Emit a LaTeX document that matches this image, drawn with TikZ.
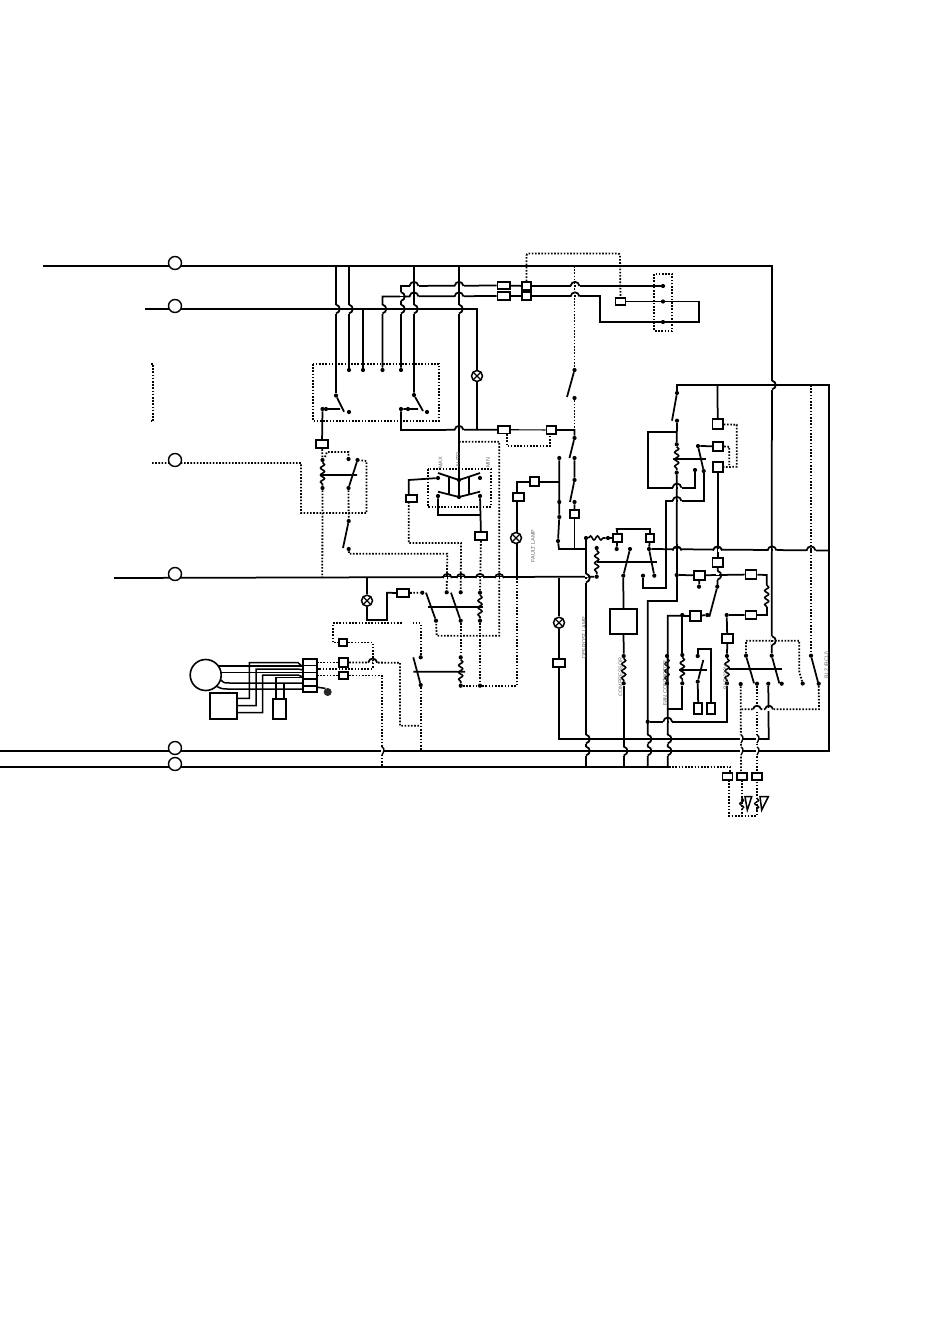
\documentclass[tikz,border=0pt]{standalone}
\usepackage{fontspec}
\setmainfont{Liberation Sans}
\usetikzlibrary{decorations.pathmorphing}
\pgfdeclarelayer{wires}
\pgfsetlayers{wires,main}
\tikzset{
 wire/.style={line width=1.75pt,black},
 dotw/.style={line width=1.8pt,black,dash pattern=on 1.6pt off 1.6pt},
 thinw/.style={line width=1.1pt,black},
 fuse/.style={draw,line width=1.75pt,fill=white,rectangle,inner sep=0pt},
 term/.style={circle,fill=black,inner sep=0pt,minimum size=4.2pt},
 bigc/.style={circle,draw,line width=1.4pt,fill=white,inner sep=0pt,minimum size=13pt},
 lamp/.style={circle,draw,line width=1.5pt,fill=white,inner sep=0pt,minimum size=11pt,path picture={
   \draw[line width=1.3pt] (path picture bounding box.north west)--(path picture bounding box.south east)
   (path picture bounding box.north east)--(path picture bounding box.south west);}},
 coilw/.style={line width=1.6pt,decorate,decoration={snake,amplitude=2pt,segment length=7pt}},
 lab/.style={rotate=90,text=black!60,font=\fontsize{5.4}{6}\selectfont,inner sep=0pt},
}
\newcommand\hopH[2]{\draw[white,line width=3pt] (#1-4.5,#2)--(#1-0.8,#2) (#1+0.8,#2)--(#1+4.5,#2);
 \draw[wire] (#1-4.5,#2) .. controls (#1-3.5,#2-5.5) and (#1+3.5,#2-5.5) .. (#1+4.5,#2);}
\newcommand\hopV[2]{\draw[white,line width=3pt] (#1,#2-4.5)--(#1,#2-0.8) (#1,#2+0.8)--(#1,#2+4.5);
 \draw[wire] (#1,#2-4.5) .. controls (#1+5,#2-3) and (#1+5,#2+3) .. (#1,#2+4.5);}
\newcommand\fz[5]{\node[fuse,minimum width=#4pt,minimum height=#5pt] (#1) at (#2,#3) {};}
\begin{document}
\begin{tikzpicture}[x=1pt,y=-1pt]
\useasboundingbox (0,0) rectangle (950,1344);
% ---- circles
\foreach \n/\y in {ca/263,cb/306,cc/460,cd/574,ce/748,cf/764}
  \node[bigc] (\n) at (175,\y) {};
\node[circle,draw,line width=1.6pt,fill=white,inner sep=0pt,minimum size=31pt] (motor) at (205.7,675) {};
% ---- boxes
\fz{f1}{322}{444}{12.5}{8.6}
\fz{f2}{503.7}{285.5}{12.5}{7.6}
\fz{f3}{503.7}{296}{12.5}{7.6}
\fz{f4}{526.5}{286}{9.6}{8}
\fz{f5}{526.5}{296}{9.6}{8}
\fz{f6}{620.5}{301.5}{10}{7.4}
\fz{f7}{504}{429.7}{12.5}{7.4}
\fz{f8}{551.3}{430}{9.4}{8}
\fz{f9}{411.5}{498.5}{11.6}{7.6}
\fz{f10}{481}{536}{12.6}{8.3}
\fz{f11}{534.5}{481.7}{9.6}{8.7}
\fz{f12}{518.5}{497}{11.6}{7.7}
\fz{f13}{574.5}{514}{9.3}{8.3}
\fz{f14}{617.3}{538}{9.3}{8.3}
\fz{f15}{650}{538}{8.6}{8.3}
\fz{f16}{717.7}{424.3}{10.6}{10}
\fz{f17}{718}{446.3}{10.6}{9.3}
\fz{f18}{718}{467.3}{10.6}{10}
\fz{f19}{699.5}{575.3}{11}{9.3}
\fz{f20}{751}{574.5}{11}{9}
\fz{f21}{751}{615}{11}{8}
\fz{f22}{717.9}{562.5}{10.6}{9.6}
\fz{f23}{695.5}{616}{11}{10}
\fz{f24}{727.3}{638.7}{11}{9.3}
\fz{f25}{623.5}{621.6}{26.4}{24.7}
\fz{f26}{559}{663.3}{12.6}{8}
\fz{f27}{698.3}{708.3}{8}{11.3}
\fz{f28}{710.7}{708.3}{8}{11.3}
\fz{f29}{727.5}{776.5}{10}{6.7}
\fz{f30}{741.7}{776.5}{10}{6.7}
\fz{f31}{756.7}{776.5}{10}{6.7}
\fz{f32}{403}{593}{12.6}{8.6}
\fz{f33}{343}{642.5}{8.6}{7.6}
\fz{f34}{343.5}{662.5}{9.6}{8.4}
\fz{f35}{343.5}{675.5}{9.6}{7.6}
\node[fuse,minimum width=27.3pt,minimum height=26.3pt] (load) at (223.6,705.9) {};
\node[fuse,minimum width=13pt,minimum height=20pt] (cap) at (279.5,709) {};
\node[fuse,minimum width=14pt,minimum height=33pt] (tb) at (309.7,675.4) {};
\draw[line width=1.6pt] (tb.west |- 0,665.3)--(tb.east |- 0,665.3)
 (tb.west |- 0,672.3)--(tb.east |- 0,672.3)
 (tb.west |- 0,679)--(tb.east |- 0,679)
 (tb.west |- 0,685.7)--(tb.east |- 0,685.7);
\node[circle,fill=black!85,inner sep=0pt,minimum size=8pt] (gnd) at (327.7,692) {};
% ---- lamps
\node[lamp] (l1) at (477,376) {};
\node[lamp] (l2) at (516,538) {};
\node[lamp] (l3) at (367,600.7) {};
\node[lamp] (l4) at (559,622.7) {};
% ---- terminals
\foreach \n/\x/\y in {
 ka/336/395.5,kb/349/412,kc/322.5/409,kd/326/409,
 ta/349/370,tb1/363/370,tc/382.5/370,td/401/370,
 ma/414/395,mb/427/412,mc/401/409,md/408/409,
 ra/322.5/460,rb/322.5/488,rc/348.5/488,rd/348.5/459,re/357.5/460,
 sa/348.7/521,sb/348.7/549,
 ua/663/286,ub/663/301.5,uc/663/322,
 va/574.5/370,vb/574.5/398,vc/574.5/438,vd/574.5/458,ve/574.5/480,vf/574.5/502,
 wa/559.3/458,wb/559.3/502,wc/559.3/517,wd/558/541,
 aa/438/478,ab/480/478,ac/438/496,ad/480/496,ae/459/480,af/459/497,
 ba/422.3/592.7,bb/436/620.7,bc/446.7/592.3,bd/460.7/592.3,be/480/592.7,bf/460.7/620.7,bg/480/620.7,
 da/460.7/657.3,db/460.7/685.7,dc/420.7/657.3,dd/420.7/685,de/480/685.7,
 ga/586/538,gb/596.7/548,gc/596.7/576.7,gd/616.7/549,ge/630/549,gf/623.3/575.7,gg/649/549,gh/654.3/575.7,gi/643/575.7,gj/608/538,
 ha/677/393,hb/677/420.7,hc/676.7/444.3,hd/676.7/472.7,he/695/470,hf/698/446,hg/703.7/471,
 ia/676.7/575,ib/699/586.7,ic/717.3/586.7,id/707.3/615,ie/726.7/615,
 ja/682.3/615,jb/682.3/655,jc/682.3/683.3,jd/667/656,je/667/683.3,jf/697.7/656,jg/697.7/681.7,
 na/623.7/656,nb/623.7/683.3,
 oa/727/656,ob/727/683.3,oc/746/655.7,od/757/683.7,oe/771.7/655.7,of/781.7/683.7,og/740.7/684,oh/768.3/683.7,
 pa/802.7/683.5,pb/811/655.7,pc/818.7/683.7,
 qa/647.7/721.7}
 \node[term] (\n) at (\x,\y) {};
% ---- labels
\node[lab] (tl1) at (533,546) {FAULT LAMP};
\node[lab] (tl2) at (584,637.5) {DEFROST LAMP};
\node[lab] (tl3) at (620.5,677) {COMPRESSOR};
\node[lab] (tl4) at (665,683) {FAN CONTACTOR};
\node[lab] (tl5) at (725.5,677) {BLR 230V};
\node[lab] (tl6) at (827,665) {BL2 (BCU)};
\node[lab] (tl7) at (440.5,463) {MAX};
\node[lab] (tl8) at (458,460) {AUTO};
\node[lab] (tl9) at (488,463) {MIN};
\begin{pgfonlayer}{wires}
\fill[white] (0,0) rectangle (950,1344);
% ---- dotted first (solid hops go over)
\draw[dotw] (151,364)--(153.3,364)--(153.3,421)--(151,421);
\draw[dotw] (313,364) rectangle (439,421);
\draw[dotw] (152,463)--(301,463)--(301,513)--(366.5,513)--(366.5,461)--(re);
\draw[dotw] (f1)--(ra) (rb)--(322.3,578) (325,457)--(327,452)--(348.5,452)--(rd);
\draw[dotw] (rc)--(sa);
\draw[dotw] (sb)--(349,553.7)--(447.3,553.7)--(bc);
\draw[dotw] (427.7,469) rectangle (491,506.7);
\draw[dotw] (408.7,502)--(408.7,543)--(461,543)--(bd);
\draw[dotw] (f10)--(be);
\draw[dotw] (459,441.7)--(499.3,441.7)--(499.3,635.7)--(436.7,635.7)--(bb);
\draw[dotw] (bf)--(da);
\draw[dotw] (bg)--(de);
\draw[dotw] (db)--(517,685.7)--(517,578);
\draw[dotw] (654.3,274) rectangle (672.3,331);
\draw[dotw,rounded corners=2pt] (f4)--(526.5,253.5)--(620,253.5)--(f6);
\draw[dotw] (574.5,266)--(va) (vb)--(574.5,430);
\draw[dotw] (506.7,434)--(506.7,446)--(550,446)--(550,434);
\draw[dotw] (f16)--(736.7,424.7)--(736.7,466.7)--(f18);
\draw[dotw] (f17)--(729.3,446.7)--(729.3,465);
\draw[dotw] (oc)--(746,640.7)--(799.3,640.7)--(799.3,671.7)--(pa);
\draw[dotw] (811,385)--(pb);
\draw[dotw] (pc)--(819,709.3)--(741.7,709.3);
\draw[dotw] (og)--(741,773);
\draw[dotw] (od)--(757,773);
\draw[dotw] (669,767)--(730,767)--(730,773);
\draw[dotw] (729,780)--(729,815.7)--(756.7,815.7)--(756.7,780);
\draw[dotw] (741.7,780)--(741.7,815.7);
\draw[dotw] (f32)--(ba);
\draw[dotw] (dc)--(420.7,623.3)--(413.3,623.3);
\draw[dotw] (401.7,623.3)--(332.7,623.3)--(332.7,642.5)--(f33);
\draw[dotw] (f33)--(372.7,642.5)--(372.7,668.7)--(tb.east |- 0,668.7);
\draw[dotw] (f34)--(tb.east |- f34);
\draw[dotw] (f34)--(400,662.7)--(400,725.7)--(420.7,725.7);
\draw[dotw] (dd)--(420.7,751);
\draw[dotw] (f35)--(tb.east |- f35);
\draw[dotw] (f35)--(382,675.5)--(382,767);
% ---- main rails
\draw[wire] (43,266)--(772,266)--(oe);
\draw[wire] (145,309)--(477,309)--(477,430);
\draw[wire] (114,578)--(gc);
\draw[wire] (0,751)--(829,751)--(829,385)--(677,385)--(ha);
\draw[wire] (0,767)--(669,767);
% ---- top left
\draw[wire] (336,266)--(ka) (349,266)--(ta) (363,309)--(tb1);
\draw[wire] (ka)--(344,411.7) (kc)--(340,409) (kc)--(f1);
\draw[wire] (f3)--(382.5,296.5)--(tc);
\draw[wire] (f2)--(401,286)--(td);
\draw[wire] (414,266)--(ma) (ma)--(423,411) (mc)--(418,409);
\draw[wire] (mc)--(401,430)--(f7);
\draw[wire] (459,266)--(af);
\draw[wire] (f2)--(f4) (f3)--(f5);
\draw[wire] (f4)--(ua);
\draw[wire] (f5)--(600,296)--(600,322)--(699.3,322)--(699.3,301.5)--(f6);
\draw[thinw] (f7)--(f8);
\draw[wire] (va)--(567,397);
\draw[wire] (f8)--(574.5,430)--(vc)--(569.5,458);
\draw[wire] (vd)--(ve)--(570,502) (vf)--(f13);
\draw[wire] (f13)--(574.5,549);
\draw[wire] (wa)--(wc)--(wd)--(559,549)--(586,549);
\draw[wire] (f11)--(559.3,481.7);
\draw[wire] (f11)--(516.7,481.7)--(516.7,493);
\draw[wire] (516.7,501)--(516.7,578);
% ---- relay left
\draw[coilw] (ra)--(rb);
\draw[wire] (320,475)--(357,475) (rc)--(re) (sa)--(343,548);
% ---- selector
\draw[wire] (438,473)--(459,480)--(480,473);
\draw[wire] (438,491.7)--(459,497)--(480,491.7);
\draw[wire] (449,476.5)--(449,494) (469.3,476.5)--(469.3,494);
\draw[wire] (aa)--(408.7,480)--(408.7,495);
\draw[wire] (ac)--(438,515)--(480,515) (ad)--(f10);
% ---- bottom left block
\draw[wire] (367,578)--(l3)--(367,620)--(387,620)--(387,592.8)--(f32);
\draw[wire] (426,592.7)--(bb) (451,592.7)--(bf);
\draw[coilw] (be)--(bg);
\draw[wire] (427.7,606.7)--(483.3,606.7);
\draw[coilw] (da)--(db);
\draw[wire] (413.3,671.7)--(465,671.7) (413.3,657.3)--(dd);
% ---- middle relay
\draw[wire] (586,538)--(586,551);
\draw[wire] (586,551)--(586,767);
\draw[coilw] (ga)--(gj);
\draw[wire] (gj)--(f14);
\draw[wire] (f14)--(gd);
\draw[coilw] (gb)--(gc);
\draw[wire] (596.7,562)--(656.7,562);
\draw[wire] (gf)--(ge) (gg)--(gh);
\draw[wire] (f14.north)--(616.7,529)--(650,529)--(f15.north);
\draw[wire] (f15)--(gg);
\draw[wire] (gg)--(829,550.5);
\draw[wire] (gi)--(643,587.7)--(665.7,587.7)--(665.7,501)--(703.7,501)--(hg);
\draw[wire] (hg)--(hf)--(f17);
% ---- upper-right relay
\draw[wire] (ha)--(672,420.7) ;
\draw[wire] (hb)--(hc);
\draw[coilw] (hc)--(hd);
\draw[wire] (673.3,459)--(705.7,459);
\draw[wire] (677,431.7)--(647.7,431.7)--(647.7,487.7)--(695,487.7)--(he);
\draw[wire] (hd)--(677,601)--(647.7,601)--(647.7,767);
\draw[wire] (717.5,385)--(f16);
\draw[wire] (f18)--(f22);
% ---- right part
\draw[wire] (ia)--(f19) (f19)--(f20) (f19)--(ib);
\draw[wire] (f20)--(766.7,575)--(766.7,585);
\draw[coilw] (766.7,585)--(766.7,607);
\draw[wire] (766.7,607)--(766.7,615)--(f21);
\draw[wire] (f21)--(ie)--(f24);
\draw[wire] (f22)--(717.5,586);
\draw[wire] (ic)--(709.3,616.7) (id)--(f23);
\draw[wire] (f23)--(667.7,615.7)--(667.7,767);
\draw[wire] (ja)--(jb);
\draw[coilw] (jb)--(jc);
\draw[wire] (jc)--(682.3,709)--(667,709);
\draw[coilw] (jd)--(je);
\draw[wire] (679.3,670)--(706.7,670);
\draw[wire] (jg)--(703.3,660);
\draw[wire] (jf)--(697.7,649.3)--(710.7,649.3)--(f28);
\draw[wire] (jg)--(f27);
\draw[wire] (f24)--(oa);
\draw[coilw] (oa)--(ob);
\draw[wire] (ob)--(727,721.7)--(qa);
\draw[wire] (729,669.3)--(782.3,669.3);
\draw[wire] (oc)--(754,683.3) (oe)--(779.3,683.3);
\draw[wire] (pb)--(818.3,683.3);
\draw[wire] (oh)--(768.7,739)--(559,739)--(f26);
\draw[wire] (f26)--(l4)--(559,578);
\draw[wire] (gf)--(f25) (f25)--(na);
\draw[coilw] (na)--(nb);
\draw[wire] (nb)--(623.7,767);
% ---- lower coils and triangles
\draw[coilw,line width=1.3pt] (741.7,798)--(741.7,810);
\draw[coilw,line width=1.3pt] (756.7,798)--(756.7,810);
\draw[line width=1.5pt,fill=white] (745,796.7)--(751.7,796.7)--(747.3,810)--cycle;
\draw[line width=1.5pt,fill=white] (760,796.7)--(768.3,796.7)--(761.7,810)--cycle;
% ---- motor wiring
\draw[line width=1.5pt] (205,666)--(303,666);
\draw[line width=1.5pt] (205,672.3)--(303,672.3);
\draw[line width=1.5pt] (221,680) .. controls (224,683) .. (230,683)--(303,683);
\draw[line width=1.5pt] (216,686) .. controls (222,689) .. (230,689)--(303,689);
\draw[line width=1.5pt] (load.east |- 0,698.3)--(249.3,698.3)--(249.3,662.7)--(298,662.7)--(303,667);
\draw[line width=1.5pt] (load.east |- 0,705.7)--(256,705.7)--(256,669)--(298,669)--(303,670);
\draw[line width=1.5pt] (load.east |- 0,712.7)--(262.7,712.7)--(262.7,675)--(298,675)--(303,677);
\draw[line width=1.5pt] (276,699)--(276,677.7)--(303,677.7);
\draw[line width=1.5pt] (284,699)--(284,683.3)--(303,683.3);
\draw[line width=1.5pt] (tb.east |- 0,687.3)--(325,688.3)--(gnd);
% ---- hops: horizontal wire arches over
\foreach \x/\y in {414/286,414/296.5,459/286,459/296.5,575/286,575/296.5,459/430,
 447.3/578,461/578,480/578,499.3/578,677/487.7,677/501,
 677/550.5,717.5/550.5,772/550.5,811/550.5,667.7/721.7}
 {\hopH{\x}{\y}}
\hopH{372.7}{662.7}
\foreach \x in {757,769} {\draw[white,line width=3pt] (\x-4,709.3)--(\x+4,709.3);
 \draw[wire] (\x-4,709.3) .. controls (\x-3,704.5) and (\x+3,704.5) .. (\x+4,709.3);}
% ---- hops: vertical wire bulges
\foreach \x/\y in {336/309,349/309,382.5/309,401/309,414/309,459/309,401/296.5,
 772/385,772/640.7,586/578,586/739,586/751,623.7/751,647.7/739,647.7/751,667.7/739,667.7/751,
 717.5/575.3}
 {\hopV{\x}{\y}}
\foreach \x/\y in {741/739,741/751,757/739,757/751,382/751}
 {\draw[white,line width=3pt] (\x,\y-4)--(\x,\y+4);
  \draw[line width=1.4pt] (\x,\y-4) .. controls (\x+3,\y-3) and (\x+2,\y+1) .. (\x,\y+4);}
\end{pgfonlayer}
\end{tikzpicture}
\end{document}
